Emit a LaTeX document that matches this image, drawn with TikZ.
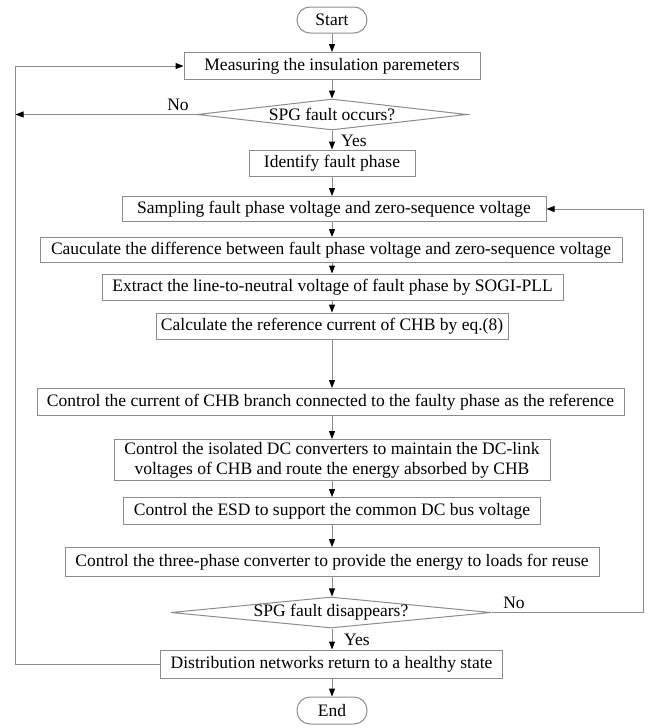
\documentclass[tikz,border=0pt]{standalone}
\usepackage{fontspec}
\setmainfont{Liberation Serif}
\usetikzlibrary{shapes.geometric,arrows.meta}
\definecolor{linegray}{RGB}{140,140,140}
\tikzset{
  box/.style={draw=linegray, line width=1pt, rectangle, inner sep=0pt, minimum height=26pt, align=center},
  term/.style={draw=linegray, line width=1pt, rounded corners=13pt, inner sep=0pt, minimum width=70pt, minimum height=26pt},
  decision/.style={draw=linegray, line width=1pt, diamond, inner sep=0pt, minimum height=31pt},
  lbl/.style={inner sep=0pt},
  flow/.style={draw=linegray, line width=1pt, -{Triangle[length=8pt,width=6pt,color=black]}},
  plain/.style={draw=linegray, line width=1pt}
}
\begin{document}
\begin{tikzpicture}[x=1pt,y=-1pt, font=\fontsize{17.5}{20}\selectfont]
\useasboundingbox (0,0) rectangle (657,728);
\node[term] (start) at (332,20) {Start};
\node[box, minimum width=296pt, minimum height=27pt] (meas) at (332,66) {Measuring the insulation paremeters};
\node[decision, minimum width=270pt, aspect=8.7] (d1) at (332,114.5) {SPG fault occurs?};
\node[box, minimum width=166pt] (ident) at (332,163) {Identify fault phase};
\node[box, minimum width=424pt, minimum height=25pt] (samp) at (334,209) {Sampling fault phase voltage and zero-sequence voltage};
\node[box, minimum width=582pt, minimum height=25pt] (cauc) at (331,250) {Cauculate the difference between fault phase voltage and zero-sequence voltage};
\node[box, minimum width=461pt] (extr) at (332.5,287) {Extract the line-to-neutral voltage of fault phase by SOGI-PLL};
\node[box, minimum width=352pt] (calc) at (332,326) {Calculate the reference current of CHB by eq.(8)};
\node[box, minimum width=587pt, minimum height=27pt] (ctrl) at (330.5,402) {Control the current of CHB branch connected to the faulty phase as the reference};
\node[box, minimum width=436pt, minimum height=41pt] (iso) at (332,460) {Control the isolated DC converters to maintain the DC-link\\voltages of CHB and route the energy absorbed by CHB};
\node[box, minimum width=417pt, minimum height=27pt] (esd) at (332,511) {Control the ESD to support the common DC bus voltage};
\node[box, minimum width=534pt, minimum height=29pt] (three) at (332,562) {Control the three-phase converter to provide the energy to loads for reuse};
\node[decision, minimum width=320pt, aspect=10.3] (d2) at (331,612.5) {SPG fault disappears?};
\node[box, minimum width=342pt, minimum height=28pt] (dist) at (331.6,664) {Distribution networks return to a healthy state};
\node[term, minimum height=27pt] (end) at (332,710.5) {End};
% labels
\node[lbl, anchor=base] (no1) at (178,110) {No};
\node[lbl, anchor=base west] (yes1) at (341,146) {Yes};
\node[lbl, anchor=base] (no2) at (514,608) {No};
\node[lbl, anchor=base west] (yes2) at (344,645) {Yes};
% loop corners
\coordinate (lt) at (15.5,66);
\coordinate (lb) at (15.5,664);
\coordinate (lno) at (15.5,114.5);
\coordinate (rt) at (643,209);
\coordinate (rb) at (643,612.5);
% main flow
\draw[flow] (start.south) -- (start.south |- meas.north);
\draw[flow] (meas.south -| start.south) -- (d1.north);
\draw[flow] (d1.south) -- (d1.south |- ident.north);
\draw[flow] (ident.south) -- (ident.south |- samp.north);
\draw[flow] (samp.south -| ident.south) -- (ident.south |- cauc.north);
\draw[flow] (cauc.south -| ident.south) -- (ident.south |- extr.north);
\draw[flow] (extr.south -| ident.south) -- (ident.south |- calc.north);
\draw[flow] (calc.south -| ident.south) -- (ident.south |- ctrl.north);
\draw[flow] (ctrl.south -| ident.south) -- (ident.south |- iso.north);
\draw[flow] (iso.south -| ident.south) -- (ident.south |- esd.north);
\draw[flow] (esd.south -| ident.south) -- (ident.south |- three.north);
\draw[flow] (three.south -| ident.south) -- (ident.south |- d2.north);
\draw[flow] (d2.south -| ident.south) -- (ident.south |- dist.north);
\draw[flow] (dist.south -| ident.south) -- (ident.south |- end.north);
% loops
\draw[flow] (d1.west) -- (lno);
\draw[flow] (dist.west) -- (lb) -- (lt) -- (meas.west);
\draw[flow] (d2.east) -- (rb) -- (rt) -- (samp.east);
\end{tikzpicture}
\end{document}
